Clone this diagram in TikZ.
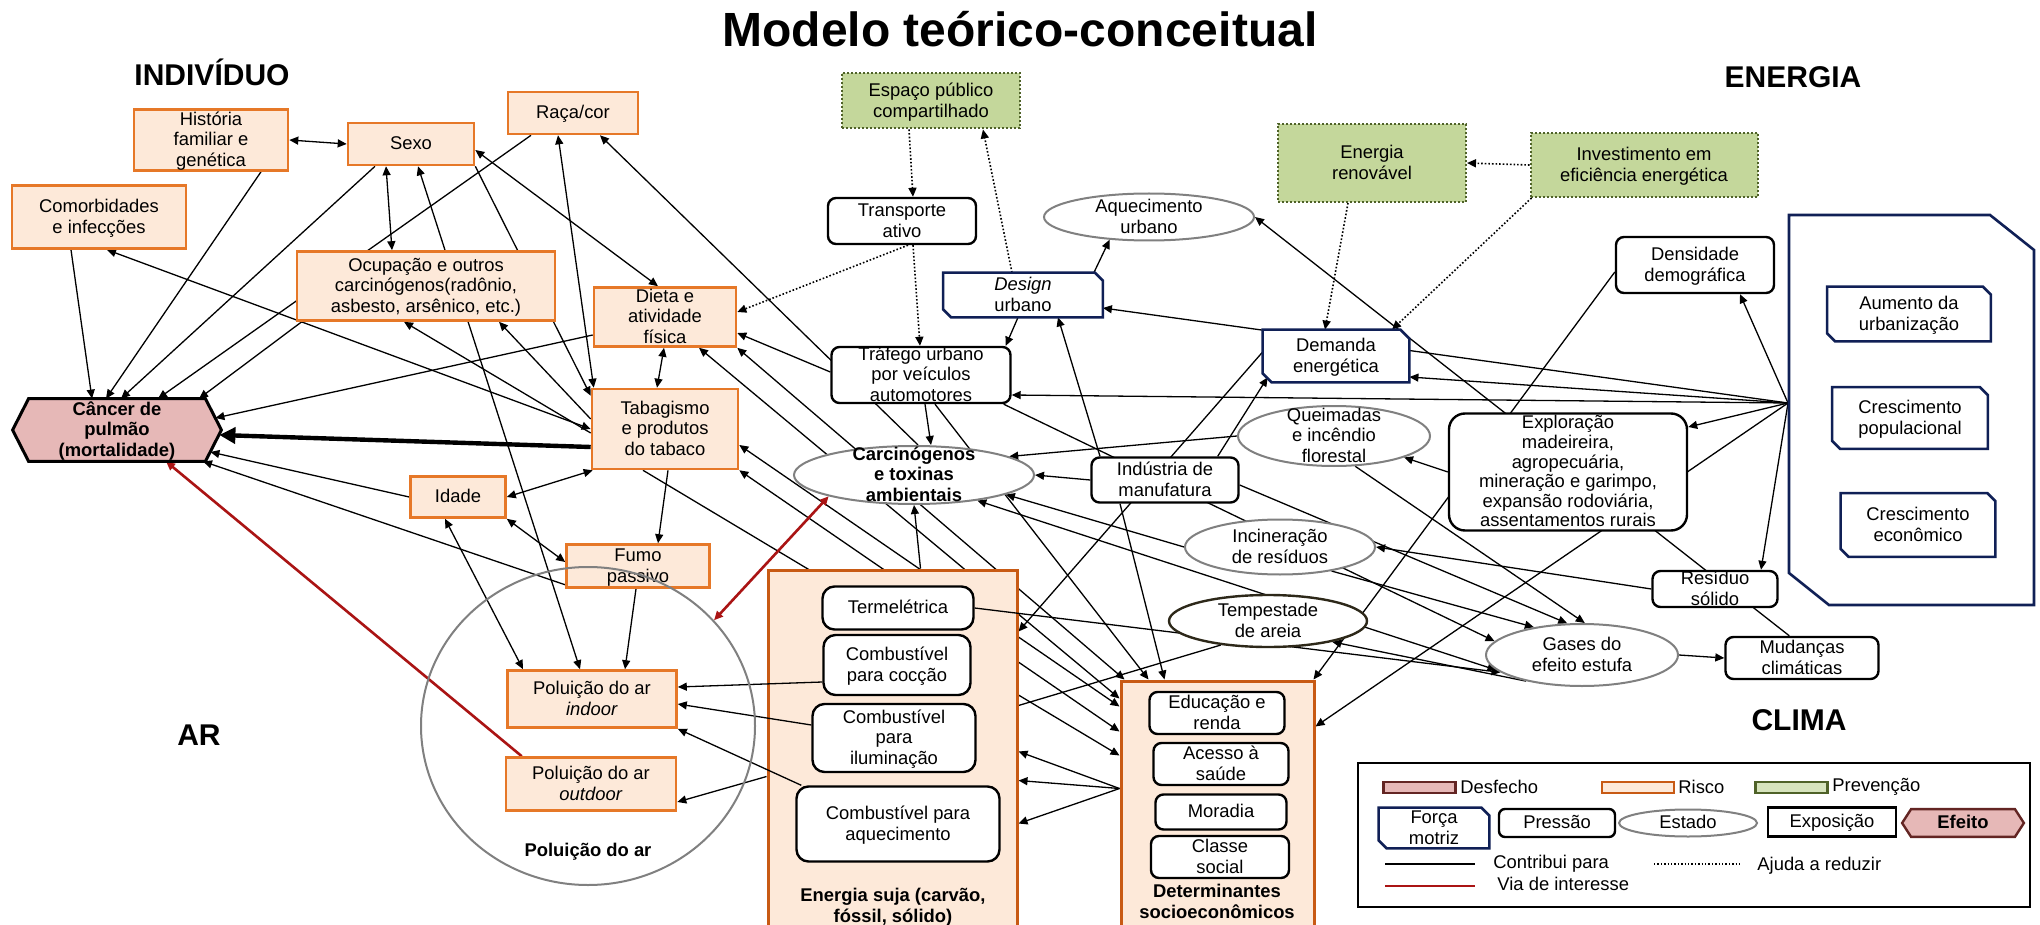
\documentclass[tikz,border=0pt]{standalone}
\usepackage{fontspec}
\setmainfont{Liberation Sans}
\usetikzlibrary{arrows.meta,calc,shapes.geometric}
\definecolor{orgB}{RGB}{230,120,40}
\definecolor{orgD}{RGB}{200,90,20}
\definecolor{peach}{RGB}{253,233,217}
\definecolor{grnF}{RGB}{196,215,155}
\definecolor{grnL}{RGB}{215,228,189}
\definecolor{grnB}{RGB}{79,98,40}
\definecolor{navy}{RGB}{16,32,86}
\definecolor{grayE}{RGB}{128,128,128}
\definecolor{pinkF}{RGB}{230,184,183}
\definecolor{redL}{RGB}{170,20,20}
\definecolor{brownB}{RGB}{99,37,35}
\definecolor{tempB}{RGB}{45,40,25}
\pgfdeclarelayer{bgwhite}
\pgfdeclarelayer{lines}
\pgfdeclarelayer{grpl}
\pgfdeclarelayer{shapes}
\pgfdeclarelayer{lines2}
\pgfsetlayers{bgwhite,lines,grpl,shapes,lines2,main}
\newcommand\mlt[1]{\smash{\raisebox{-3.2pt}{\begin{tabular}{@{}c@{}}#1\end{tabular}}}}
\newcommand\chamf[3]{\path[#3] (#1.north west) -- ($(#1.north east)+(-#2,0)$) -- ($(#1.north east)+(0,#2)$) -- (#1.south east) -- ($(#1.south west)+(#2,0)$) -- ($(#1.south west)+(0,-#2)$) -- cycle;}
\newcommand\hexa[3]{\path[#3] (#1.west) -- ($(#1.north west)+(#2,0)$) -- ($(#1.north east)+(-#2,0)$) -- (#1.east) -- ($(#1.south east)+(-#2,0)$) -- ($(#1.south west)+(#2,0)$) -- cycle;}
\tikzset{
 nbase/.style={font=\fontsize{9.2}{10.2}\selectfont, inner sep=0pt},
 bfnt/.style={font=\bfseries\fontsize{9.2}{10.2}\selectfont},
 risco/.style={nbase, rectangle, draw=orgB, fill=peach, line width=1.3pt},
 press/.style={nbase, rectangle, rounded corners=4pt, draw=black, fill=white, line width=1.2pt},
 estado/.style={nbase, ellipse, draw=grayE, fill=white, line width=1pt},
 prev/.style={nbase, rectangle, draw=grnB, fill=grnF, line width=1pt, densely dotted},
 forca/.style={nbase, rectangle},
 grp/.style={rectangle, draw=orgD, fill=peach, line width=1.5pt, inner sep=0pt},
 hd/.style={font=\bfseries\fontsize{15}{18}\selectfont, inner sep=0pt},
 ttlf/.style={font=\bfseries\fontsize{24}{28}\selectfont, inner sep=0pt},
 con/.style={line width=0.65pt, ->},
 dcon/.style={line width=0.65pt, <->},
 pcon/.style={line width=0.65pt},
 dotc/.style={line width=0.8pt, densely dotted, ->},
 redc/.style={line width=1.3pt, draw=redL, ->},
 redd/.style={line width=1.3pt, draw=redL, <->},
 thickc/.style={line width=2.2pt, -{Triangle[length=8pt,width=8pt]}},
 navyline/.style={draw=navy, fill=white, line width=1.3pt, line join=miter},
}
\begin{document}
\begin{tikzpicture}[x=0.5pt,y=-0.5pt, >={Triangle[length=4.5pt,width=4pt]}]
\begin{pgfonlayer}{bgwhite}
\fill[white] (0,0) rectangle (2040,925);
\end{pgfonlayer}
\useasboundingbox (0,0) rectangle (2040,925);

% titles
\node[ttlf] (ttl) at (1020,29) {Modelo teórico-conceitual};
\node[hd] (hind) at (212,72) {INDIVÍDUO};
\node[hd] (hene) at (1793,77) {ENERGIA};
\node[hd] (har) at (199,735) {AR};
\node[hd] (hcli) at (1799,720) {CLIMA};

% individual
\node[risco, minimum width=77pt, minimum height=30.5pt] (hist) at (211,140) {\mlt{História\\familiar e\\genética}};
\node[risco, minimum width=63pt, minimum height=21pt] (sexo) at (411,144) {\mlt{Sexo}};
\node[risco, minimum width=65pt, minimum height=21pt] (raca) at (573,113) {\mlt{Raça/cor}};
\node[risco, minimum width=87pt, minimum height=31.5pt] (comorb) at (99,217) {\mlt{Comorbidades\\e infecções}};
\node[risco, minimum width=129pt, minimum height=34.5pt] (ocup) at (426,286) {\mlt{Ocupação e outros\\carcinógenos(radônio,\\asbesto, arsênico, etc.)}};
\node[risco, minimum width=71pt, minimum height=29.5pt] (dieta) at (665,317) {\mlt{Dieta e\\atividade\\física}};
\node[risco, minimum width=73pt, minimum height=40pt] (tab) at (665,429) {\mlt{Tabagismo\\e produtos\\do tabaco}};
\node[risco, minimum width=47.5pt, minimum height=20.5pt] (idade) at (458,497) {\mlt{Idade}};
\node[risco, minimum width=71.5pt, minimum height=21.5pt] (fumo) at (638,566) {\mlt{Fumo\\passivo}};
\node[nbase, bfnt, minimum width=104pt, minimum height=31pt] (cancer) at (117,430) {\mlt{Câncer de\\pulmão\\(mortalidade)}};

% air pollution
\node[ellipse, draw=grayE, line width=1pt, minimum width=167pt, minimum height=159pt, inner sep=0pt] (polcirc) at (588,726) {};
\node[nbase, bfnt] (pollab) at (588,852) {Poluição do ar};
\node[risco, minimum width=84.5pt, minimum height=28.5pt] (indoor) at (592,699) {\mlt{Poluição do ar\\\textit{indoor}}};
\node[risco, minimum width=85pt, minimum height=26.5pt] (outdoor) at (591,784) {\mlt{Poluição do ar\\\textit{outdoor}}};

% group boxes
\begin{pgfonlayer}{grpl}
\node[grp, minimum width=124.5pt, minimum height=180pt] (esuja) at (892.5,750) {};
\node[grp, minimum width=96.5pt, minimum height=124.5pt] (determ) at (1217.5,805.5) {};
\end{pgfonlayer}
\node[press, rounded corners=6pt, minimum width=75.5pt, minimum height=21.5pt] (termel) at (898,608) {\mlt{Termelétrica}};
\node[press, rounded corners=6pt, minimum width=73.5pt, minimum height=30pt] (coccao) at (897,665) {\mlt{Combustível\\para cocção}};
\node[press, rounded corners=6pt, minimum width=81.5pt, minimum height=34pt] (ilum) at (894,738) {\mlt{Combustível\\para\\iluminação}};
\node[press, rounded corners=6pt, minimum width=101.5pt, minimum height=37.5pt] (aquec) at (898,824) {\mlt{Combustível para\\aquecimento}};
\node[nbase, bfnt] (esujalab) at (893,906) {\mlt{Energia suja (carvão,\\fóssil, sólido)}};
\node[press, minimum width=67.5pt, minimum height=21pt] (educ) at (1217,713) {\mlt{Educação e\\renda}};
\node[press, minimum width=67.5pt, minimum height=21pt] (acesso) at (1221,764) {\mlt{Acesso à\\saúde}};
\node[press, minimum width=65.5pt, minimum height=17.5pt] (moradia) at (1221,812) {\mlt{Moradia}};
\node[press, minimum width=69pt, minimum height=21pt] (classe) at (1220,857) {\mlt{Classe\\social}};
\node[nbase, bfnt] (determlab) at (1217,902) {\mlt{Determinantes\\socioeconômicos}};

% middle
\node[prev, minimum width=89pt, minimum height=27.5pt] (espaco) at (931,101) {\mlt{Espaço público\\compartilhado}};
\node[press, minimum width=74pt, minimum height=23pt] (transp) at (902,221) {\mlt{Transporte\\ativo}};
\node[press, minimum width=89.5pt, minimum height=28pt] (trafego) at (921,375) {\mlt{Tráfego urbano\\por veículos\\automotores}};
\node[estado, bfnt, minimum width=120pt, minimum height=29pt] (carcin) at (914,475) {\mlt{Carcinógenos\\e toxinas\\ambientais}};
\node[forca, minimum width=79.5pt, minimum height=22pt] (design) at (1023,295) {\mlt{\textit{Design}\\urbano}};
\node[estado, minimum width=105pt, minimum height=23.5pt] (aqurb) at (1149,217) {\mlt{Aquecimento\\urbano}};
\node[prev, minimum width=94pt, minimum height=39pt] (energren) at (1372,163) {\mlt{Energia\\renovável}};
\node[prev, minimum width=113.5pt, minimum height=32pt] (invest) at (1644,165) {\mlt{Investimento em\\eficiência energética}};
\node[forca, minimum width=73pt, minimum height=26pt] (demanda) at (1336,356) {\mlt{Demanda\\energética}};
\node[press, minimum width=79pt, minimum height=28pt] (densid) at (1695,265) {\mlt{Densidade\\demográfica}};
\node[press, minimum width=73.5pt, minimum height=22.5pt] (indus) at (1165,480) {\mlt{Indústria de\\manufatura}};
\node[estado, minimum width=96pt, minimum height=30pt] (queim) at (1334,436) {\mlt{Queimadas\\e incêndio\\florestal}};
\node[estado, minimum width=95pt, minimum height=27.5pt] (incin) at (1280,547) {\mlt{Incineração\\de resíduos}};
\node[estado, draw=tempB, line width=1.2pt, minimum width=99pt, minimum height=26pt] (tempest) at (1268,621) {\mlt{Tempestade\\de areia}};
\node[press, rounded corners=8pt, font=\fontsize{9.2}{9.8}\selectfont, minimum width=119pt, minimum height=58.5pt] (explor) at (1568,472) {\mlt{Exploração\\madeireira,\\agropecuária,\\mineração e garimpo,\\expansão rodoviária,\\assentamentos rurais}};
\node[press, minimum width=62.5pt, minimum height=18pt] (residuo) at (1715,589) {\mlt{Resíduo\\sólido}};
\node[estado, minimum width=96pt, minimum height=31pt] (gases) at (1582,655) {\mlt{Gases do\\efeito estufa}};
\node[press, minimum width=76.5pt, minimum height=21pt] (mudancas) at (1802,658) {\mlt{Mudanças\\climáticas}};
\node[forca, minimum width=81.5pt, minimum height=27pt] (aumento) at (1909,314) {\mlt{Aumento da\\urbanização}};
\node[forca, minimum width=77.5pt, minimum height=30.5pt] (crespop) at (1910,418) {\mlt{Crescimento\\populacional}};
\node[forca, minimum width=77pt, minimum height=31.5pt] (cresecon) at (1918,525) {\mlt{Crescimento\\econômico}};
\coordinate (P) at (1788,403);

% legend
\begin{pgfonlayer}{grpl}
\node[draw, line width=1pt, fill=white, minimum width=336pt, minimum height=72pt, inner sep=0pt] (legbox) at (1694,835) {};
\end{pgfonlayer}
\node[rectangle, draw=brownB, fill=pinkF, line width=1.2pt, minimum width=36pt, minimum height=5.5pt, inner sep=0pt] (sw1) at (1419.5,787.5) {};
\node[nbase, anchor=west] (sw1t) at (1460,787) {Desfecho};
\node[rectangle, draw=orgD, fill=peach, line width=1.2pt, minimum width=36pt, minimum height=5.5pt, inner sep=0pt] (sw2) at (1638,787.5) {};
\node[nbase, anchor=west] (sw2t) at (1678,787) {Risco};
\node[rectangle, draw=grnB, fill=grnL, line width=1.2pt, minimum width=36pt, minimum height=5.5pt, inner sep=0pt] (sw3) at (1791.5,787.5) {};
\node[nbase, anchor=west] (sw3t) at (1832,787) {Prevenção};
\node[forca, minimum width=55pt, minimum height=20pt] (lgforca) at (1434,828) {\mlt{Força\\motriz}};
\node[press, rounded corners=3pt, minimum width=58pt, minimum height=14pt] (lgpress) at (1557,823) {\mlt{Pressão}};
\node[estado, minimum width=69pt, minimum height=13.5pt] (lgestado) at (1688,823) {\mlt{Estado}};
\node[nbase, rectangle, draw=black, fill=white, line width=1.2pt, minimum width=64pt, minimum height=14.5pt] (lgexpo) at (1832,822) {\mlt{Exposição}};
\node[nbase, bfnt, minimum width=60.5pt, minimum height=13.5pt] (lgefeito) at (1963,823) {\mlt{Efeito}};
\coordinate (la1) at (1385,864); \coordinate (lb1) at (1475,864);
\draw[pcon] (la1) -- (lb1);
\node[nbase, anchor=west] (lt1) at (1493,864) {Contribui para};
\coordinate (la2) at (1654,864); \coordinate (lb2) at (1742,864);
\draw[line width=0.7pt, densely dotted] (la2) -- (lb2);
\node[nbase, anchor=west] (lt2) at (1757,866) {Ajuda a reduzir};
\coordinate (la3) at (1385,886); \coordinate (lb3) at (1475,886);
\draw[line width=0.8pt, draw=redL] (la3) -- (lb3);
\node[nbase, anchor=west] (lt3) at (1497,884) {Via de interesse};

% special shapes
\begin{pgfonlayer}{shapes}
\hexa{cancer}{16}{draw=black, fill=pinkF, line width=1.5pt, line join=miter}
\draw[navyline] (1789,215) -- (1990,215) -- (2034,250) -- (2034,605) -- (1829,605) -- (1789,573) -- cycle;
\chamf{design}{8}{navyline}
\chamf{demanda}{9}{navyline}
\chamf{aumento}{8}{navyline}
\chamf{crespop}{8}{navyline}
\chamf{cresecon}{8}{navyline}
\chamf{lgforca}{8}{navyline}
\hexa{lgefeito}{9}{draw=brownB, fill=pinkF, line width=1.2pt, line join=miter}
\end{pgfonlayer}

% connectors
\begin{pgfonlayer}{lines}
\draw[dcon] (hist.east) -- (sexo.west);
\draw[con] ($(comorb.south)+(-28,0)$) -- ($(cancer.north)+(-25,0)$);
\draw[con] ($(hist.south)+(50,0)$) -- ($(cancer.north)+(-11,0)$);
\draw[con] ($(sexo.south)+(-36,0)$) -- ($(cancer.north)+(4,0)$);
\draw[con] ($(raca.south)+(-42,0)$) -- ($(cancer.north)+(41,0)$);
\draw[con] ($(ocup.south west)+(6,0)$) -- ($(cancer.north)+(82,0)$);
\draw[dcon] ($(sexo.south)+(-25,0)$) -- ($(ocup.north)+(-34,0)$);
\draw[dcon] ($(sexo.south)+(7,0)$) -- ($(indoor.north)+(-12,0)$);
\draw[con] (sexo.south east) -- ($(tab.north west)+(0,8)$);
\draw[dcon] ($(sexo.east)+(0,6)$) -- ($(dieta.north)+(-7,0)$);
\draw[dcon] ($(raca.south)+(-15,0)$) -- ($(tab.north west)+(3,0)$);
\draw[con] ($(carcin.north)+(4,0)$) -- ($(raca.south)+(27,0)$);
\draw[dcon] (tab.west) -- ($(comorb.south)+(8,0)$);
\draw[con] ($(tab.west)+(0,4)$) -- ($(ocup.south)+(-22,0)$);
\draw[con] ($(tab.west)+(0,-10)$) -- ($(ocup.south)+(73,0)$);
\draw[con] ($(dieta.west)+(0,18)$) -- ($(cancer.east)+(-6,-12)$);
\draw[thickc] ($(tab.west)+(0,18)$) -- ($(cancer.east)+(-2,5)$);
\draw[con] (idade.west) -- ($(cancer.east)+(-11,22)$);
\draw[con] ($(fumo.south west)+(0,-4)$) -- ($(cancer.south)+(86,0)$);
\draw[dcon] (idade.east) -- ($(tab.south west)+(2,0)$);
\draw[dcon] (idade.south east) -- ($(fumo.west)+(0,-4)$);
\draw[con] ($(tab.south)+(3,0)$) -- ($(fumo.north)+(20,0)$);
\draw[dcon] ($(dieta.south)+(-1,0)$) -- ($(tab.north)+(-8,0)$);
\draw[con] ($(fumo.south)+(-2,0)$) -- ($(indoor.north)+(33,0)$);
\draw[dcon] ($(idade.south)+(-13,0)$) -- ($(indoor.north)+(-69,0)$);
\draw[dotc] ($(transp.south)+(6,0)$) -- ($(dieta.east)+(0,-5)$);
\draw[con] ($(trafego.west)+(0,-3)$) -- ($(dieta.east)+(0,16)$);
\draw[dcon] ($(determ.north west)+(0,19)$) -- ($(dieta.south)+(34,0)$);
\draw[dcon] ($(determ.north west)+(5,0)$) -- (dieta.south east);
\draw[dcon] ($(determ.north west)+(0,27)$) -- ($(tab.east)+(0,16)$);
\draw[dcon] ($(determ.north west)+(0,52)$) -- (tab.south east);
\draw[con] ($(tab.south)+(-22,0)$) -- ($(determ.north west)+(0,76)$);
\draw[con] ($(trafego.south)+(14,0)$) -- ($(determ.north west)+(29,0)$);
\foreach \d in {183,212,255} \draw[con] ($(determ.north west)+(0,109)$) -- ($(esuja.north east)+(0,\d)$);
\draw[con] ($(esuja.north west)+(0,208)$) -- ($(outdoor.east)+(0,18)$);
\draw[redc] ($(outdoor.north west)+(17,0)$) -- ($(cancer.south)+(49,0)$);
\draw[redd] (polcirc.40) -- (carcin.194);
% middle top
\draw[dotc] ($(design.north)+(-11,0)$) -- ($(espaco.south)+(52,0)$);
\draw[dotc] ($(espaco.south)+(-22,0)$) -- ($(transp.north)+(11,0)$);
\draw[dotc] ($(transp.south)+(11,0)$) -- ($(trafego.north)+(-1,0)$);
\draw[con] ($(design.south)+(-5,0)$) -- ($(trafego.north east)+(-6,0)$);
\draw[con] ($(design.north east)+(-9,0)$) -- (aqurb.210);
\draw[con] ($(indus.north)+(-65,0)$) -- ($(design.south)+(35,0)$);
\draw[con] ($(indus.south)+(-45,0)$) -- ($(determ.north west)+(45,0)$);
\draw[con] ($(demanda.west)+(0,-4)$) -- ($(esuja.north east)+(0,63)$);
\draw[con] ($(indus.north east)+(-22,0)$) -- ($(demanda.south west)+(5,-5)$);
\draw[dotc] ($(energren.south)+(-24,0)$) -- ($(demanda.north)+(-11,0)$);
\draw[dotc] (invest.west) -- (energren.east);
\draw[dotc] ($(invest.south west)+(2,0)$) -- ($(demanda.north)+(56,0)$);
% driving forces
\draw[con] (P) -- ($(densid.south)+(45,0)$);
\draw[con] (P) -- ($(residuo.north)+(46,0)$);
\draw[con] (P) -- ($(explor.east)+(0,-45)$);
\draw[con] (P) -- ($(determ.north east)+(0,47)$);
\draw[con] (P) -- ($(demanda.east)+(0,21)$);
\draw[con] (P) -- ($(design.east)+(0,13)$);
\draw[con] (P) -- ($(trafego.east)+(0,20)$);
\draw[con] ($(densid.west)+(0,7)$) -- ($(determ.north east)+(-2,0)$);
\draw[con] ($(mudancas.north west)+(65,0)$) -- (aqurb.east);
\draw[con] (explor.west) -- (queim.-17);
\draw[con] (queim.west) -- (carcin.11);
\draw[con] (indus.west) -- (carcin.east);
\draw[con] (incin.west) -- (carcin.-12);
\draw[dcon] (gases.190) -- (carcin.-22);
\draw[con] ($(trafego.south)+(4,0)$) -- ($(carcin.north)+(17,0)$);
\draw[con] ($(esuja.north)+(28,0)$) -- (carcin.south);
\draw[con] ($(trafego.south east)+(-8,0)$) -- (gases.171);
\draw[con] ($(indus.east)+(0,5)$) -- (gases.115);
\draw[con] (incin.-25) -- (gases.150);
\draw[con] (queim.-55) -- (gases.85);
\draw[con] (gases.east) -- (mudancas.west);
\draw[con] (gases.205) -- (tempest.-18);
\draw[pcon] ($(esuja.north east)+(0,137)$) -- (tempest.207);
\draw[con] (residuo.west) -- (incin.east);
\end{pgfonlayer}
\begin{pgfonlayer}{lines2}
\draw[con] ($(coccao.west)+(0,17)$) -- ($(indoor.east)+(0,-12)$);
\draw[con] ($(ilum.west)+(0,-13)$) -- ($(indoor.east)+(0,5)$);
\draw[con] ($(aquec.north west)+(6,0)$) -- (indoor.south east);
\draw[con] (termel.east) -- (gases.192);
\end{pgfonlayer}
\end{tikzpicture}
\end{document}
